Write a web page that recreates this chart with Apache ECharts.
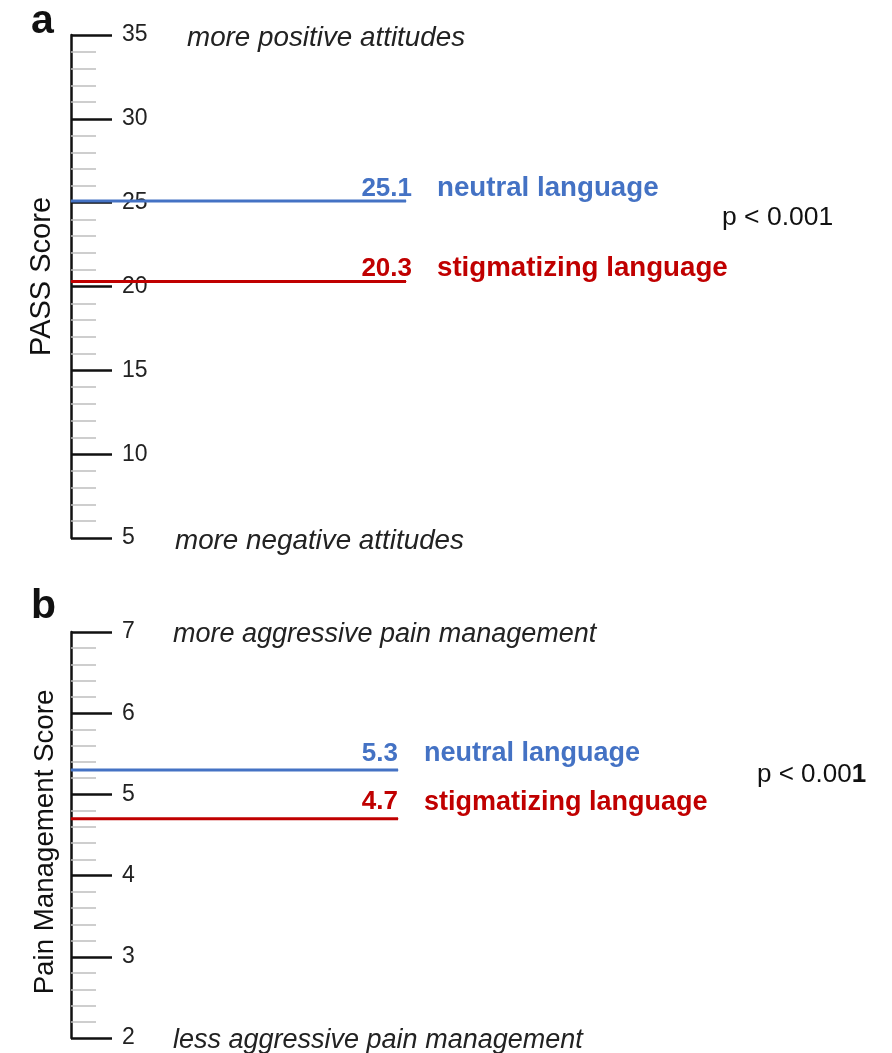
<!DOCTYPE html>
<html><head><meta charset="utf-8">
<script src="https://cdn.jsdelivr.net/npm/echarts@6/dist/echarts.min.js"></script>
<style>html,body{margin:0;padding:0;background:#fff}#c{width:892px;height:1053px}</style>
</head><body><div id="c"></div>
<script>
// ---- data ----
const groupNames = ['neutral language', 'stigmatizing language'];
const groupColors = ['#4472C4', '#C00000'];
const passScores = [25.1, 20.3];
const painScores = [5.3, 4.7];
const passTickLabels = [5, 10, 15, 20, 25, 30, 35];
const painTickLabels = [2, 3, 4, 5, 6, 7];
const passAnnotations = ['more positive attitudes', 'more negative attitudes'];
const painAnnotations = ['more aggressive pain management', 'less aggressive pain management'];
const panelLetters = ['a', 'b'];
const axisNames = ['PASS Score', 'Pain Management Score'];
const pValues = ['p < 0.001', 'p < 0.001'];

const FONT = '"Liberation Sans", Arial, Helvetica, sans-serif';
const chart = echarts.init(document.getElementById('c'), null, {renderer: 'canvas'});

function yAxis(i, ticks, name, st) {
  return {
    type: 'value', gridIndex: i,
    min: ticks[0], max: ticks[ticks.length - 1], interval: ticks[1] - ticks[0],
    name: name, nameLocation: 'middle', nameRotate: 90, nameGap: st.gap,
    nameTextStyle: {fontSize: st.size, color: '#111', fontFamily: FONT, padding: st.pad},
    axisLine: {show: true, lineStyle: {color: '#111', width: 2.5}},
    axisTick: {show: true, inside: true, length: 41, lineStyle: {color: '#111', width: 2.5}},
    minorTick: {show: true, splitNumber: 5, length: 25, lineStyle: {color: '#bfbfbf', width: 1.5}},
    axisLabel: {inside: true, margin: 51, fontSize: 23, color: '#222', fontFamily: FONT, padding: [5, 0, 0, 0]},
    splitLine: {show: false}, minorSplitLine: {show: false}
  };
}
function xAxis(i) {
  return {type: 'value', gridIndex: i, min: 0, max: 1, show: false};
}

const panelScores = [passScores, painScores];
const nameOffsets = [[31, 0], [26, 0]];
const numOffsets = [[6, 0], [0, 0]];
const labelDist = [-1, 3];
const nameSizes = [27.7, 27];
const series = [];
panelScores.forEach((scores, p) => {
  scores.forEach((v, g) => {
    series.push({
      type: 'line', xAxisIndex: p, yAxisIndex: p,
      symbol: 'circle', symbolSize: 1, showSymbol: true, silent: true,
      itemStyle: {color: groupColors[g], opacity: 1},
      lineStyle: {color: groupColors[g], width: 3},
      label: {show: false},
      data: [[0, v], {value: [1, v], label: {
        show: true, position: 'top', align: 'right', distance: labelDist[p], offset: numOffsets[p],
        formatter: v.toFixed(1), color: groupColors[g], fontWeight: 'bold', fontSize: 26, fontFamily: FONT
      }}]
    });
    series.push({
      type: 'scatter', xAxisIndex: p, yAxisIndex: p, symbolSize: 0.1, silent: true,
      itemStyle: {color: groupColors[g], opacity: 1},
      label: {show: true, position: 'top', align: 'left', distance: labelDist[p], offset: nameOffsets[p],
        formatter: groupNames[g], color: groupColors[g], fontWeight: 'bold', fontSize: nameSizes[p], fontFamily: FONT},
      data: [[1, v]]
    });
  });
});

chart.setOption({
  animation: false,
  backgroundColor: '#fff',
  grid: [
    {left: 71, top: 35, width: 335, height: 503},
    {left: 71, top: 632, width: 327, height: 406}
  ],
  xAxis: [xAxis(0), xAxis(1)],
  yAxis: [
    yAxis(0, passTickLabels, axisNames[0], {gap: 15, size: 29, pad: [0, 0, 0, 20]}),
    yAxis(1, painTickLabels, axisNames[1], {gap: 12, size: 27.7, pad: [0, 14, 0, 0]})
  ],
  series: series
});

// annotations placed at the axis ends via the axis scale
const yA = v => chart.convertToPixel({yAxisIndex: 0}, v);
const yB = v => chart.convertToPixel({yAxisIndex: 1}, v);
const italic = s => ({fontSize: s, fontStyle: 'italic', fill: '#222', fontFamily: FONT, textVerticalAlign: 'middle'});
const graphic = [
  {type: 'text', left: 31, top: 1, style: {text: panelLetters[0], fontSize: 41, fontWeight: 'bold', fill: '#111', fontFamily: FONT}},
  {type: 'text', left: 31, top: 586, style: {text: panelLetters[1], fontSize: 41, fontWeight: 'bold', fill: '#111', fontFamily: FONT}},
  {type: 'text', x: 187, y: yA(passTickLabels[passTickLabels.length - 1]) + 3, style: Object.assign({text: passAnnotations[0]}, italic(27.8))},
  {type: 'text', x: 175, y: yA(passTickLabels[0]) + 3, style: Object.assign({text: passAnnotations[1]}, italic(27.8))},
  {type: 'text', x: 173, y: yB(painTickLabels[painTickLabels.length - 1]) + 2, style: Object.assign({text: painAnnotations[0]}, italic(27))},
  {type: 'text', x: 173, y: yB(painTickLabels[0]) + 2, style: Object.assign({text: painAnnotations[1]}, italic(27))},
  {type: 'text', x: 722, y: 218, style: {text: pValues[0], fontSize: 26.5, fill: '#111', fontFamily: FONT, textVerticalAlign: 'middle'}},
  {type: 'text', x: 757, y: 775, style: {text: pValues[1].slice(0, -1) + '{b|' + pValues[1].slice(-1) + '}', fontSize: 26, fill: '#111', fontFamily: FONT, textVerticalAlign: 'middle', rich: {b: {fontSize: 26, fontWeight: 'bold', fill: '#111', fontFamily: FONT}}}}
];
chart.setOption({graphic: graphic});
</script>
</body></html>
